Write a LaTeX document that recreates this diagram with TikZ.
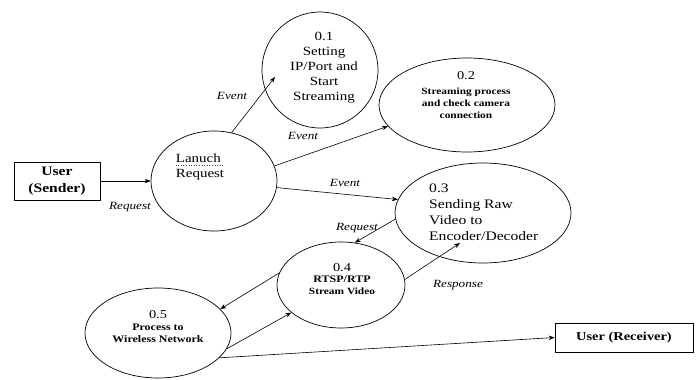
\documentclass[tikz,border=0pt]{standalone}
\usepackage{fontspec}
\setmainfont[FakeStretch=1.2]{Liberation Serif}
\usetikzlibrary{shapes.geometric,arrows.meta}
\begin{document}
\begin{tikzpicture}[x=1pt,y=-1pt,
  proc/.style={draw,ellipse,line width=0.7pt,inner sep=0pt},
  box/.style={draw,line width=0.7pt,rectangle,inner sep=0pt,align=center,font=\fontsize{13}{17}\selectfont\bfseries},
  arr/.style={-{Stealth[length=6pt,width=4.5pt]},line width=0.6pt},
  lbl/.style={inner sep=0pt,font=\fontsize{11}{13}\selectfont\itshape},
  txt/.style={inner sep=0pt,align=center}]
\useasboundingbox (0,0) rectangle (699,380);
% boxes
\node[box,minimum width=86pt,minimum height=38pt] (snd) at (57,181) {User\\(Sender)};
\node[box,minimum width=138pt,minimum height=29pt,font=\fontsize{12}{14}\selectfont\bfseries] (rcv) at (624,337.5) {User (Receiver)};
% processes
\node[proc,minimum width=126pt,minimum height=100pt] (lr) at (214,181) {};
\node[proc,minimum width=116pt,minimum height=116pt] (c01) at (320,70) {};
\node[proc,minimum width=176pt,minimum height=94pt] (c02) at (467,105) {};
\node[proc,minimum width=176pt,minimum height=100pt] (c03) at (483,213) {};
\node[proc,minimum width=128pt,minimum height=86pt] (c04) at (341,285) {};
\node[proc,minimum width=146pt,minimum height=90pt] (c05) at (158,333) {};
% texts
\node[txt,align=left,font=\fontsize{12.5}{15}\selectfont] (tlr) at (200,167) {Lanuch\\Request};
\draw[red,dotted,line width=0.6pt] (tlr.west |- 0,165.5) -- (223,165.5);
\node[txt,font=\fontsize{12.5}{15}\selectfont] (t01) at (324,68) {0.1\\Setting\\IP/Port and\\Start\\Streaming};
\node[txt,font=\fontsize{9.5}{12}\selectfont\bfseries] (t02) at (466,95) {{\fontsize{12}{12}\selectfont\mdseries 0.2}\\[3pt]Streaming process\\and check camera\\connection};
\node[txt,align=left,anchor=west,font=\fontsize{13}{16}\selectfont] (t03) at (429,212) {0.3\\Sending Raw\\Video to\\Encoder/Decoder};
\node[txt,font=\fontsize{9.5}{11.5}\selectfont\bfseries] (t04) at (342,279) {{\fontsize{12}{12}\selectfont\mdseries 0.4}\\{\fontsize{10}{11.5}\selectfont RTSP/RTP}\\Stream Video};
\node[txt,font=\fontsize{10}{12}\selectfont\bfseries] (t05) at (158,327) {{\fontsize{12}{12}\selectfont\mdseries 0.5}\\Process to\\Wireless Network};
% connectors
\draw[arr] (snd.east) -- (lr.west);
\node[lbl] (l1) at (130,207) {Request};
\draw[arr] (lr.70) -- ([shift={(-45,7)}]c01.center);
\node[lbl] (l2) at (232,96) {Event};
\draw[arr] (lr.14) -- (c02.195);
\node[lbl] (l3) at (303,136) {Event};
\draw[arr] (lr.-6) -- (c03.171);
\node[lbl] (l4) at (345,183) {Event};
\draw[arr] (c03.184) -- (c04.72);
\node[lbl] (l5) at (357,228) {Request};
\draw[arr] (c04.5) -- ([shift={(-23,30)}]c03.center);
\node[lbl] (l6) at (458,285) {Response};
\draw[arr] (c04.169) -- (c05.21);
\draw[arr] (c05.-13) -- (c04.209);
\draw[arr] (c05.-22) -- (rcv.west);
\end{tikzpicture}
\end{document}
